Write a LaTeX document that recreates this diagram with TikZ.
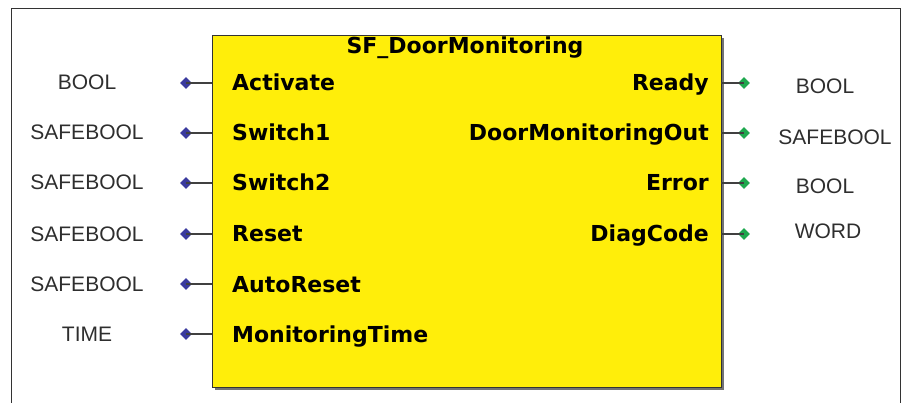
\documentclass[tikz,border=0pt]{standalone}
\usepackage{fontspec}
\setmainfont{DejaVu Sans}
\newfontfamily\typefont{Liberation Sans}
\usetikzlibrary{shapes.geometric}
\definecolor{fbyellow}{HTML}{FFEE0A}
\definecolor{pinblue}{HTML}{3A3A9E}
\definecolor{pingreen}{HTML}{1EA84E}
\definecolor{typegray}{HTML}{2E2E2E}
\tikzset{
  x=1pt, y=-1pt,
  pinname/.style={font=\bfseries\fontsize{22}{22}\selectfont, inner sep=0pt},
  typelbl/.style={font=\typefont\fontsize{21}{21}\selectfont, text=typegray, inner sep=0pt},
  indot/.style={diamond, fill=pinblue, inner sep=0pt, minimum size=12pt},
  outdot/.style={diamond, fill=pingreen, inner sep=0pt, minimum size=12pt},
  pinline/.style={line width=2pt, draw=black!75},
}
\begin{document}
\begin{tikzpicture}
\useasboundingbox (0,0) rectangle (904,403);
% outer frame
\draw[line width=0.8pt, black!80] (11,410) -- (11,8) -- (900,8) -- (900,410);
% shadow
\fill[black!55] (215,38) rectangle (724,390);
% function block
\node[draw=black!80, line width=1pt, fill=fbyellow, minimum width=509pt, minimum height=352pt, inner sep=0pt, anchor=north west] (fb) at (212,35) {};
\node[pinname, anchor=base] (title) at (465,54) {SF\_DoorMonitoring};
% inputs
\foreach \nm/\txt/\typ/\yy in {a/Activate/BOOL/83, b/Switch1/SAFEBOOL/133, c/Switch2/SAFEBOOL/183, d/Reset/SAFEBOOL/234, e/AutoReset/SAFEBOOL/284, f/MonitoringTime/TIME/334}{
  \node[pinname, anchor=base west] (in\nm) at (232,\yy+8) {\txt};
  \coordinate (ie\nm) at (212,\yy);
  \node[indot] (id\nm) at (186,\yy) {};
  \draw[pinline] (id\nm.center) -- (ie\nm);
  \node[typelbl, anchor=base] (it\nm) at (87,\yy+7) {\typ};
}
% outputs
\foreach \nm/\txt/\yy in {a/Ready/83, b/DoorMonitoringOut/133, c/Error/183, d/DiagCode/234}{
  \node[pinname, anchor=base east] (out\nm) at (709,\yy+8) {\txt};
  \coordinate (oe\nm) at (721,\yy);
  \node[outdot] (od\nm) at (744,\yy) {};
  \draw[pinline] (oe\nm) -- (od\nm.center);
}
\node[typelbl, anchor=base] (ota) at (825,94) {BOOL};
\node[typelbl, anchor=base] (otb) at (835,145) {SAFEBOOL};
\node[typelbl, anchor=base] (otc) at (825,194) {BOOL};
\node[typelbl, anchor=base] (otd) at (828,239) {WORD};
\end{tikzpicture}
\end{document}
